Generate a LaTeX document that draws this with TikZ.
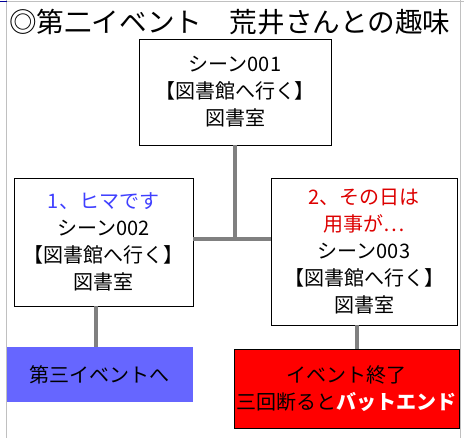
\documentclass[tikz,border=0pt]{standalone}
\usepackage{fontspec}
\setmainfont{Noto Sans CJK JP}
\usepackage{xcolor}
\definecolor{hintblue}{RGB}{64,64,255}
\definecolor{hintred}{RGB}{221,0,0}
\definecolor{nextblue}{RGB}{102,102,255}
\definecolor{gridgray}{RGB}{192,192,192}
\definecolor{linkgray}{RGB}{128,128,128}
\usetikzlibrary{positioning,calc}

\begin{document}
\begin{tikzpicture}[x=1pt,y=-1pt,
    scene/.style={draw,fill=white,line width=0.8pt,inner sep=0pt,align=center,
      font=\fontsize{20}{27}\selectfont},
    link/.style={draw=linkgray,line width=3.6pt}]
  \useasboundingbox (0,0) rectangle (464,438);
  % sheet grid lines
  \draw[gridgray,line width=1pt] (6.5,0) -- (6.5,438);
  \draw[gridgray,line width=1pt] (460.5,0) -- (460.5,438);
  \draw[gridgray,line width=1pt] (6.5,1.5) -- (464,1.5);
  \draw[blue!60!black,line width=1pt] (0,1.5) -- (6.5,1.5);

  % Title
  \node[anchor=west,inner sep=0pt,font=\fontsize{27.6}{30}\selectfont]
        (title) at (9,22) {◎第二イベント　荒井さんとの趣味};

  % Top: scene 001
  \node[scene,minimum width=192,minimum height=106]
        (s1) at (235,92) {シーン001\\【図書館へ行く】\\図書室};

  % Left: answer 1
  \node[scene,minimum width=179,minimum height=128]
        (s2) at (103.5,242)
        {\textcolor{hintblue}{1、ヒマです}\\シーン002\\【図書館へ行く】\\図書室};

  % Right: answer 2
  \node[scene,minimum width=186,minimum height=147]
        (s3) at (364,251.5)
        {\textcolor{hintred}{2、その日は}\\\textcolor{hintred}{用事が…}\\シーン003\\【図書館へ行く】\\図書室};

  % Bottom left: next event
  \node[fill=nextblue,inner sep=0pt,minimum width=186,minimum height=55,
        font=\fontsize{20}{27}\selectfont]
        (next) at (100,374.5) {第三イベントへ};

  % Bottom right: event end
  \node[draw,fill=red,line width=0.8pt,inner sep=0pt,align=center,
        minimum width=225,minimum height=79,
        font=\fontsize{20}{27}\selectfont]
        (end) at (346.5,388.5)
        {イベント終了\\三回断ると\textcolor{white}{\bfseries バットエンド}};

  % connectors
  \coordinate (junc) at (s1.south |- 0,239);
  \draw[link] (s1.south) -- (junc);
  \draw[link] (s2.east |- junc) -- (s3.west |- junc);
  \draw[link] ([xshift=-7.5pt]s2.south) -- ([xshift=-7.5pt]s2.south |- next.north);
  \draw[link] ([xshift=-7pt]s3.south) -- ([xshift=-7pt]s3.south |- end.north);
\end{tikzpicture}
\end{document}
